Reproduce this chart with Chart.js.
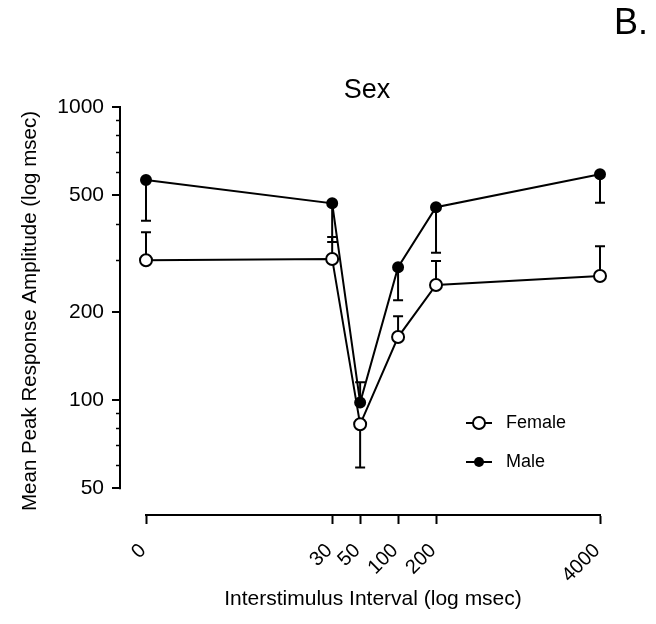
<!DOCTYPE html>
<html>
<head>
<meta charset="utf-8">
<script src="https://cdn.jsdelivr.net/npm/chart.js@4.4.1/dist/chart.umd.min.js"></script>
<style>
  html, body { margin: 0; padding: 0; background: #fff; }
  canvas { display: block; }
</style>
</head>
<body>
<canvas id="chart" width="656" height="624"></canvas>
<script>
// Interstimulus intervals (msec) and their tick labels
const intervals = [0, 30, 50, 100, 200, 4000];
const intervalLabels = ['0', '30', '50', '100', '200', '4000'];

// Mean peak response amplitude and the end value of each error bar
const femaleMean   = [300, 303, 82.6, 164, 247, 265];
const femaleErrEnd = [374, 360, 58.8, 193, 298, 335];
const maleMean     = [563, 469, 98, 284, 455, 589];
const maleErrEnd   = [409, 346, 115, 219, 318, 471];

// Y axis tick values
const yMajorTicks = [50, 100, 200, 500, 1000];
const yMinorTicks = [60, 70, 80, 90, 300, 400, 600, 700, 800, 900];

const FONT = '"Liberation Sans", Arial, Helvetica, sans-serif';
Chart.defaults.font.family = FONT;
Chart.defaults.color = '#000';

// a zero interval sits at the origin (1 msec) of the log axis
const plotX = v => (v === 0 ? 1 : v);
const toPoints = means => intervals.map((v, i) => ({ x: plotX(v), y: means[i] }));

const series = [
  { label: 'Female', mean: femaleMean, errEnd: femaleErrEnd, filled: false },
  { label: 'Male',   mean: maleMean,   errEnd: maleErrEnd,   filled: true }
];

const decorations = {
  id: 'decorations',
  beforeDatasetsDraw(chart) {
    const ctx = chart.ctx;
    const xs = chart.scales.x, ys = chart.scales.y;
    ctx.save();
    ctx.strokeStyle = '#000';
    ctx.lineWidth = 2;
    ctx.lineCap = 'butt';

    // offset y axis line with major and minor ticks
    const axisX = 120;
    const yLo = ys.getPixelForValue(yMajorTicks[0]);
    const yHi = ys.getPixelForValue(yMajorTicks[yMajorTicks.length - 1]);
    ctx.beginPath();
    ctx.moveTo(axisX, yLo + 1);
    ctx.lineTo(axisX, yHi - 1);
    ctx.stroke();
    yMajorTicks.forEach(v => {
      const y = Math.round(ys.getPixelForValue(v));
      ctx.beginPath(); ctx.moveTo(axisX - 8, y); ctx.lineTo(axisX, y); ctx.stroke();
    });
    ctx.lineWidth = 1.5;
    yMinorTicks.forEach(v => {
      const y = Math.round(ys.getPixelForValue(v)) + 0.5;
      ctx.beginPath(); ctx.moveTo(axisX - 4, y); ctx.lineTo(axisX, y); ctx.stroke();
    });

    // error bars with caps
    ctx.lineWidth = 2;
    series.forEach(s => {
      intervals.forEach((v, i) => {
        const x = xs.getPixelForValue(plotX(v));
        const y0 = ys.getPixelForValue(s.mean[i]);
        const y1 = ys.getPixelForValue(s.errEnd[i]);
        ctx.beginPath();
        ctx.moveTo(x, y0); ctx.lineTo(x, y1);
        ctx.moveTo(x - 5, y1); ctx.lineTo(x + 5, y1);
        ctx.stroke();
      });
    });
    ctx.restore();
  },
  afterDraw(chart) {
    const ctx = chart.ctx;
    ctx.save();
    ctx.fillStyle = '#000';
    ctx.textBaseline = 'middle';

    // panel title and letter
    ctx.font = '27px ' + FONT;
    ctx.textAlign = 'center';
    ctx.fillText('Sex', 367, 91);
    ctx.font = '36px ' + FONT;
    ctx.textAlign = 'left';
    ctx.fillText('B.', 614, 24);

    // legend
    const rows = [423, 462];
    series.forEach((s, i) => {
      const y = rows[i];
      ctx.strokeStyle = '#000';
      ctx.lineWidth = 2;
      ctx.beginPath(); ctx.moveTo(466, y); ctx.lineTo(492, y); ctx.stroke();
      ctx.beginPath();
      if (s.filled) {
        ctx.arc(479, y, 5, 0, Math.PI * 2);
        ctx.fillStyle = '#000'; ctx.fill();
      } else {
        ctx.arc(479, y, 6, 0, Math.PI * 2);
        ctx.fillStyle = '#fff'; ctx.fill(); ctx.stroke();
      }
      ctx.fillStyle = '#000';
      ctx.font = '18px ' + FONT;
      ctx.textAlign = 'left';
      ctx.fillText(s.label, 506, y);
    });
    ctx.restore();
  }
};

new Chart(document.getElementById('chart'), {
  type: 'line',
  data: {
    datasets: series.map(s => ({
      label: s.label,
      data: toPoints(s.mean),
      borderColor: '#000',
      borderWidth: 2,
      pointRadius: s.filled ? 5 : 6,
      pointBorderWidth: 2,
      pointBackgroundColor: s.filled ? '#000' : '#fff',
      pointBorderColor: '#000',
      tension: 0,
      clip: false
    }))
  },
  options: {
    responsive: false,
    animation: false,
    devicePixelRatio: 1,
    layout: { padding: { left: 0, right: 56, top: 107, bottom: 0 } },
    plugins: { legend: { display: false }, tooltip: { enabled: false }, title: { display: false } },
    scales: {
      x: {
        type: 'logarithmic',
        min: 1,
        max: 4000,
        afterBuildTicks: s => { s.ticks = intervals.map(v => ({ value: plotX(v) })); },
        afterFit: s => { s.height = 109; },
        ticks: {
          autoSkip: false,
          minRotation: 45,
          maxRotation: 45,
          padding: 15,
          labelOffset: -3,
          color: '#000',
          font: { size: 20 },
          callback: (val, i) => intervalLabels[i]
        },
        grid: { display: true, drawOnChartArea: false, drawTicks: true, tickLength: 9, tickWidth: 2, tickColor: '#000' },
        border: { display: true, color: '#000', width: 2 },
        title: {
          display: true,
          text: 'Interstimulus Interval (log msec)',
          color: '#000',
          font: { size: 21 },
          padding: { top: 0, bottom: 12 }
        }
      },
      y: {
        type: 'logarithmic',
        min: 40.5,
        max: 1000,
        afterBuildTicks: s => { s.ticks = yMajorTicks.map(v => ({ value: v })); },
        afterFit: s => { s.width = 146; },
        ticks: {
          padding: 42,
          color: '#000',
          font: { size: 21 },
          callback: v => String(v)
        },
        grid: { display: false, drawTicks: false },
        border: { display: false },
        title: {
          display: true,
          text: 'Mean Peak Response Amplitude (log msec)',
          color: '#000',
          font: { size: 20.5 },
          padding: { top: 18, bottom: 0 }
        }
      }
    }
  },
  plugins: [decorations]
});
</script>
</body>
</html>
